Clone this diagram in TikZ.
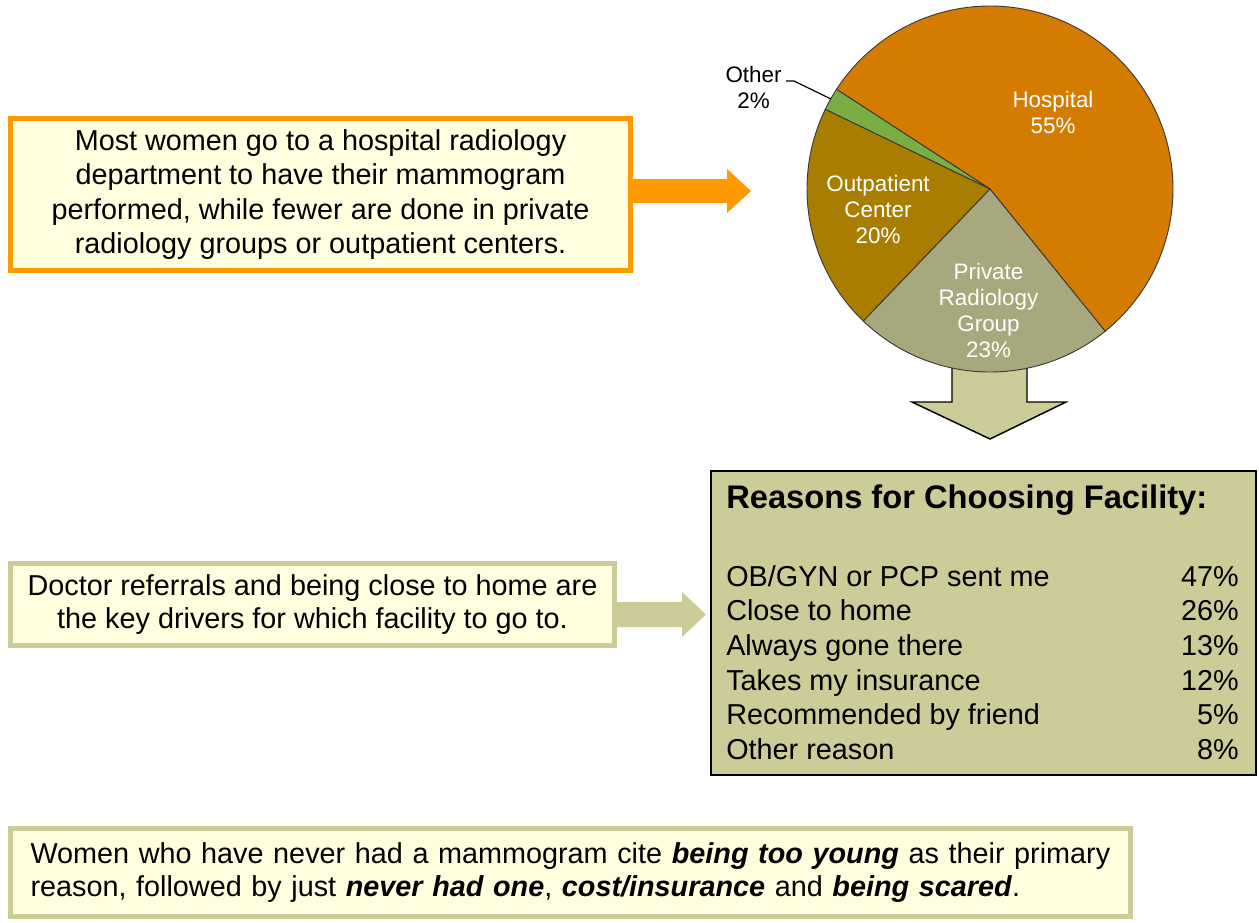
\documentclass[tikz,border=0pt]{standalone}
\usepackage{fontspec}
\setmainfont{Liberation Sans}
\definecolor{orangeC}{HTML}{FF9900}
\definecolor{creamC}{HTML}{FFFFE0}
\definecolor{oliveC}{HTML}{CCCC99}
\definecolor{hospC}{HTML}{D47C00}
\definecolor{outpC}{HTML}{A87D00}
\definecolor{privC}{HTML}{A8A87E}
\definecolor{otherC}{HTML}{7AAE45}
\definecolor{pieline}{HTML}{3A3A3A}
\begin{document}
\begin{tikzpicture}[x=0.75pt,y=-0.75pt,
  bodyfont/.style={font=\fontsize{21.6}{25.9}\selectfont},
  notebox/.style={fill=creamC, line width=3.75pt, inner sep=0pt},
  pielabel/.style={font=\fontsize{16.8}{19.5}\selectfont, align=center, text=white, inner sep=0pt},
  rowtext/.style={font=\fontsize{21.6}{25.9}\selectfont, inner sep=0pt},
  sliceline/.style={draw=pieline, line width=0.7pt}]
\useasboundingbox (0,0) rectangle (1259,922);

% ---------- top note box and arrow ----------
\node[notebox, draw=orangeC, minimum width=465pt, minimum height=114pt,
      align=center, bodyfont] (box1) at (320.5,194.5)
  {Most women go to a hospital radiology\\department to have their mammogram\\performed, while fewer are done in private\\radiology groups or outpatient centers.};
\fill[orangeC] (box1.east |- 0,179) -- (727,179) -- (727,169) -- (751,191)
  -- (727,213) -- (727,203) -- (box1.east |- 0,203) -- cycle;

% ---------- down arrow (behind pie) ----------
\filldraw[fill=oliveC, draw=black, line width=1.1pt]
  (952,330) -- (1027,330) -- (1027,402) -- (1066,402) -- (990,439)
  -- (912,402) -- (952,402) -- cycle;

% ---------- pie ----------
\coordinate (pc) at (990,189);
\filldraw[fill=hospC, sliceline] (pc) -- ++(-51:137.25pt)
  arc[start angle=-51, end angle=147, radius=137.25pt] -- cycle;
\filldraw[fill=otherC, sliceline] (pc) -- ++(147:137.25pt)
  arc[start angle=147, end angle=154.2, radius=137.25pt] -- cycle;
\filldraw[fill=outpC, sliceline] (pc) -- ++(154.2:137.25pt)
  arc[start angle=154.2, end angle=226.2, radius=137.25pt] -- cycle;
\filldraw[fill=privC, sliceline] (pc) -- ++(226.2:137.25pt)
  arc[start angle=226.2, end angle=309, radius=137.25pt] -- cycle;

\node[pielabel] (lhosp) at (1053,112.5) {Hospital\\55\%};
\node[pielabel] (loutp) at (878,209) {Outpatient\\Center\\20\%};
\node[pielabel] (lpriv) at (988.5,310) {Private\\Radiology\\Group\\23\%};
\node[pielabel, text=black] (lother) at (753.5,87) {Other\\2\%};
\coordinate (ldA) at (786,81);
\coordinate (ldB) at (794,81);
\coordinate (ldC) at (831,99);
\draw[line width=0.9pt] (ldA) -- (ldB) -- (ldC);

% ---------- reasons box ----------
\node[fill=oliveC, draw=black, line width=1.5pt, minimum width=408.75pt,
      minimum height=228pt, inner sep=0pt] (reasons) at (983.5,623) {};
\node[anchor=base west, inner sep=0pt, font=\fontsize{24.5}{29}\selectfont\bfseries]
  (rtitle) at (726,508) {Reasons for Choosing Facility:};
\node[rowtext, anchor=base west] (rl1) at (726,586) {OB/GYN or PCP sent me};
\node[rowtext, anchor=base east] (rv1) at (1239,586) {47\%};
\node[rowtext, anchor=base west] (rl2) at (726,620.7) {Close to home};
\node[rowtext, anchor=base east] (rv2) at (1239,620.7) {26\%};
\node[rowtext, anchor=base west] (rl3) at (726,655.4) {Always gone there};
\node[rowtext, anchor=base east] (rv3) at (1239,655.4) {13\%};
\node[rowtext, anchor=base west] (rl4) at (726,690.1) {Takes my insurance};
\node[rowtext, anchor=base east] (rv4) at (1239,690.1) {12\%};
\node[rowtext, anchor=base west] (rl5) at (726,724.8) {Recommended by friend};
\node[rowtext, anchor=base east] (rv5) at (1239,724.8) {5\%};
\node[rowtext, anchor=base west] (rl6) at (726,759.5) {Other reason};
\node[rowtext, anchor=base east] (rv6) at (1239,759.5) {8\%};

% ---------- middle note box and arrow ----------
\node[notebox, draw=oliveC, minimum width=453pt, minimum height=61.5pt,
      align=center, font=\fontsize{21.6}{24.75}\selectfont] (box2) at (312.5,604.5)
  {Doctor referrals and being close to home are\\the key drivers for which facility to go to.};
\fill[oliveC] (box2.east |- 0,602) -- (682,602) -- (682,592) -- (706,614.5)
  -- (682,637) -- (682,627) -- (box2.east |- 0,627) -- cycle;

% ---------- bottom note box ----------
\node[notebox, draw=oliveC, minimum width=840pt, minimum height=66pt,
      align=left, text width=810pt, inner xsep=15pt,
      font=\fontsize{21.6}{24.75}\selectfont] (box3) at (570.5,872.5)
  {Women who have never had a mammogram cite \textbf{\textit{being too young}} as their primary\\
   reason, followed by just \textbf{\textit{never had one}}, \textbf{\textit{cost/insurance}} and \textbf{\textit{being scared}}.};
\end{tikzpicture}
\end{document}
